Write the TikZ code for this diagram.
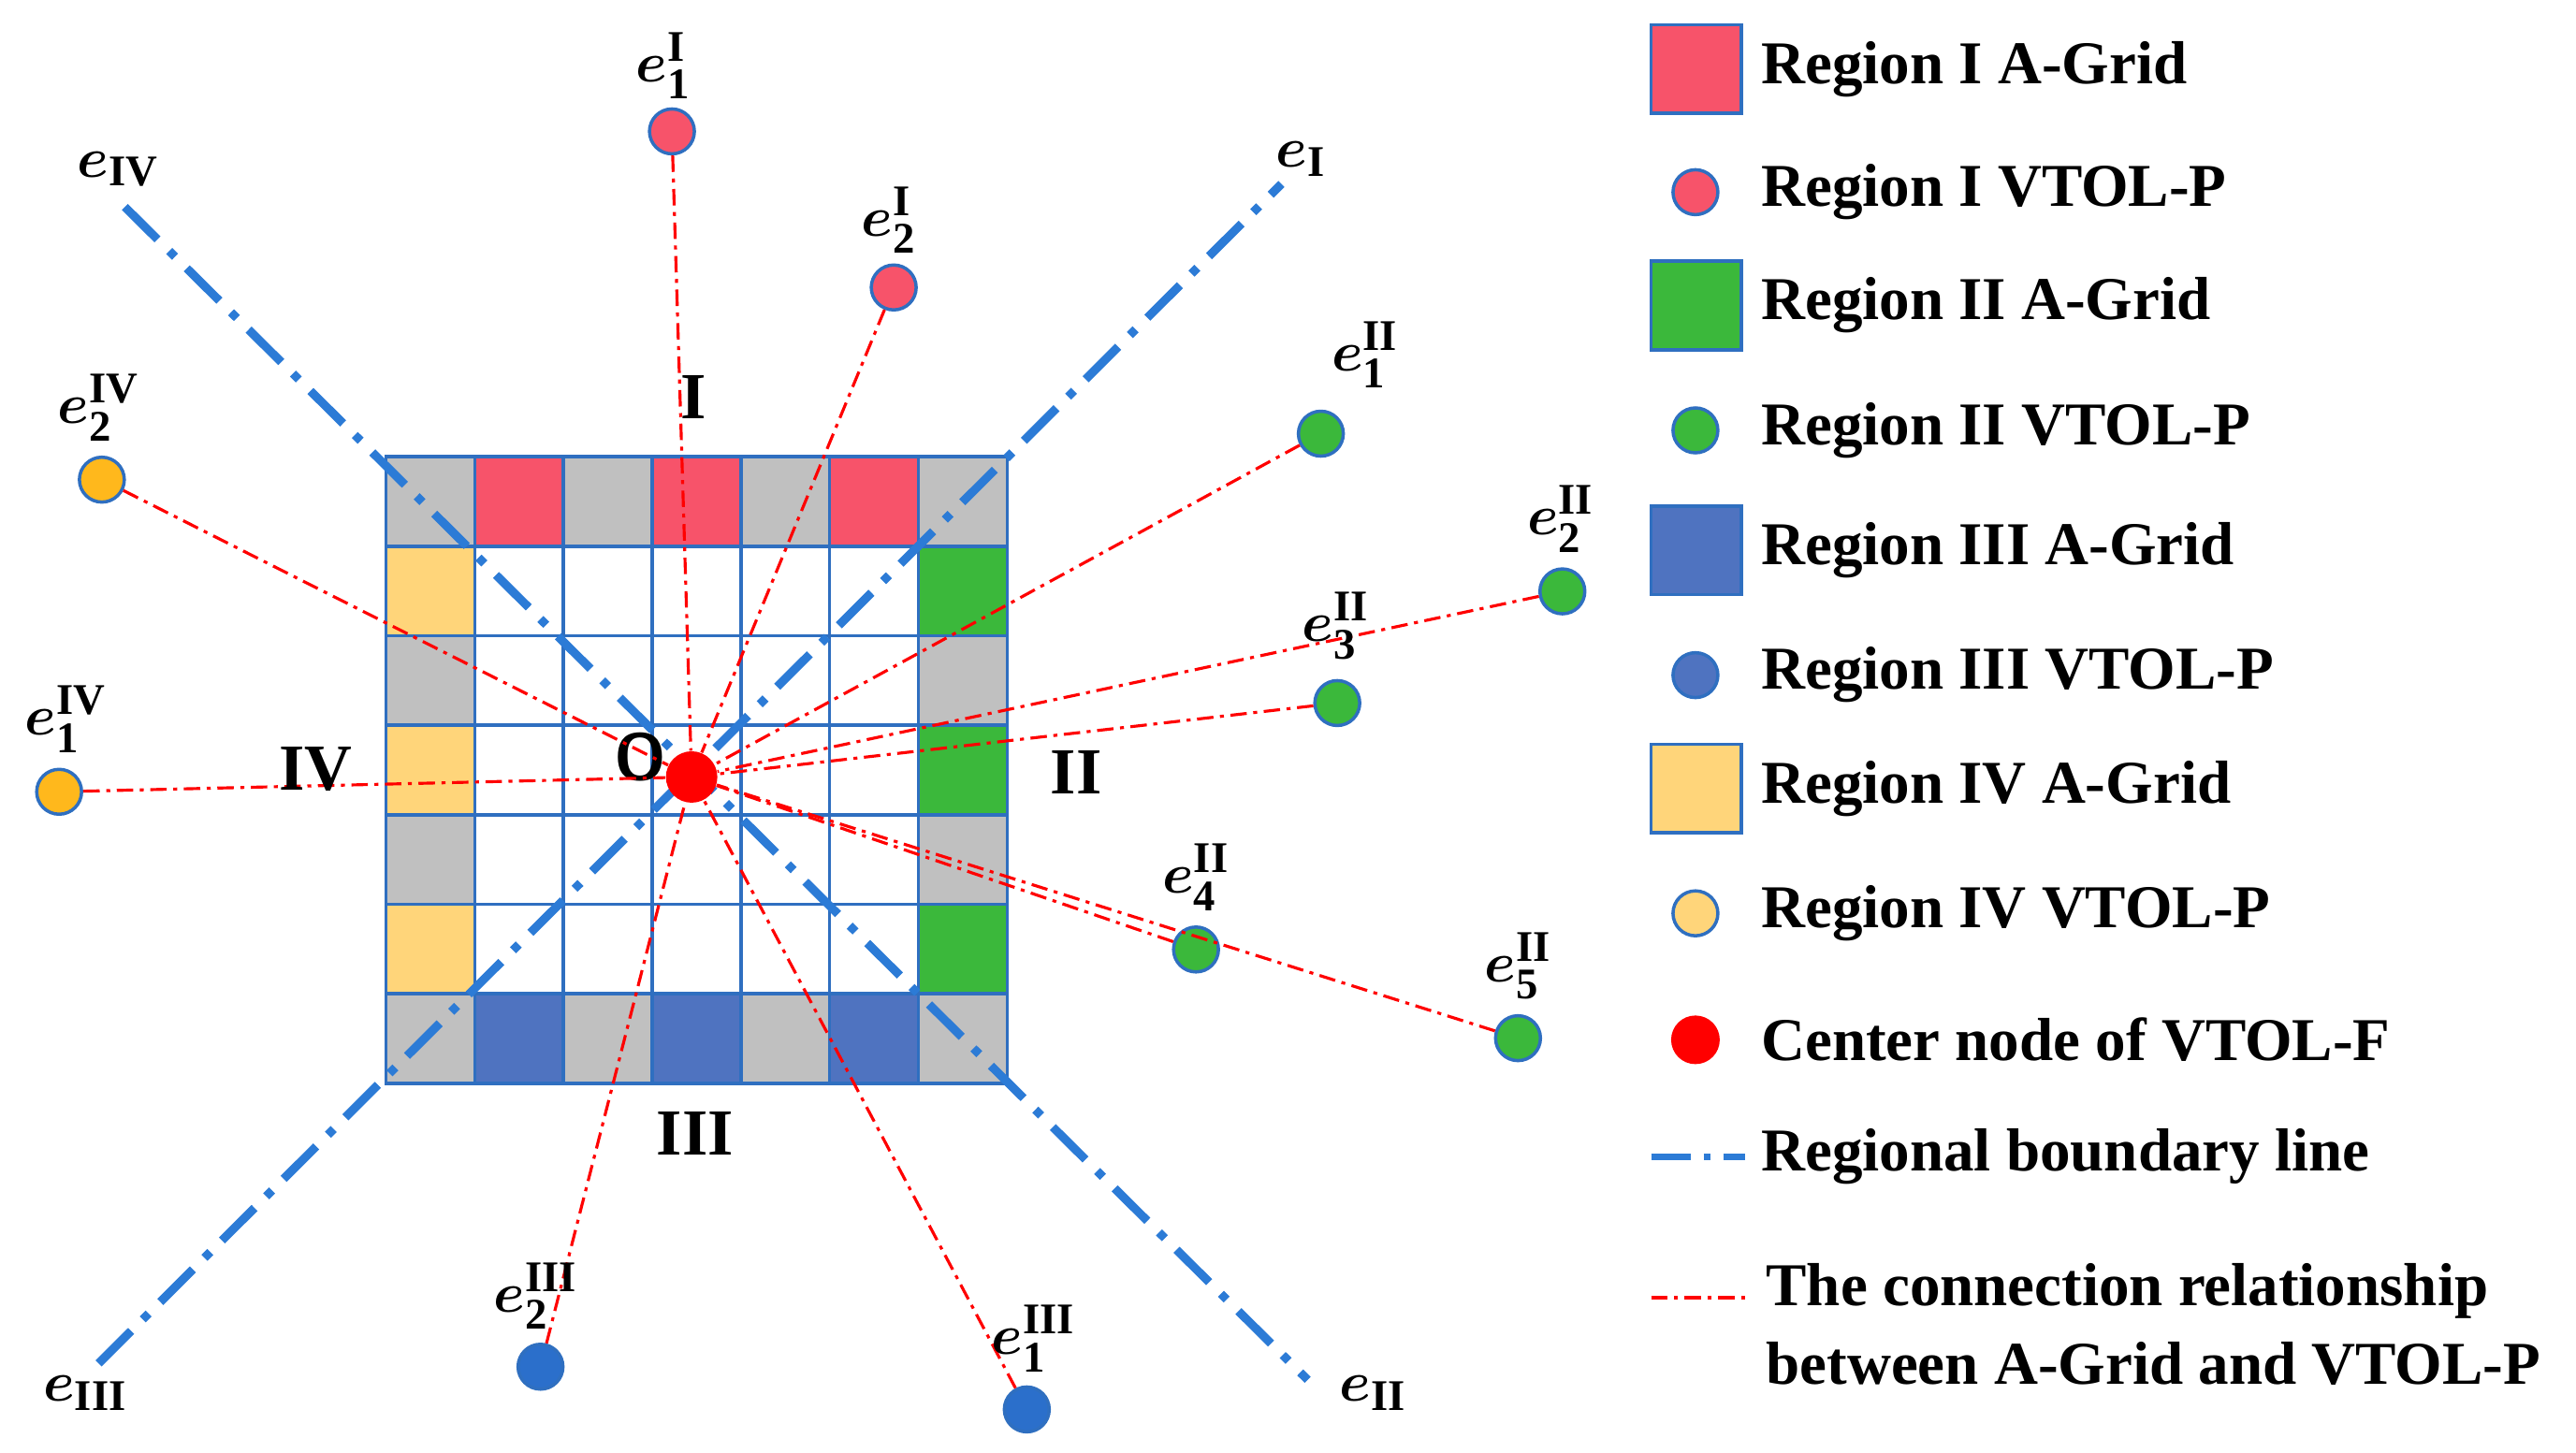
\documentclass[tikz,border=0pt]{standalone}
\usepackage{fontspec}
\setmainfont{Liberation Serif}
\usepackage{amsmath,bm}
\usetikzlibrary{positioning}
\definecolor{cellred}{HTML}{F7536A}
\definecolor{cellgreen}{HTML}{3BB83B}
\definecolor{cellblue}{HTML}{4F73C0}
\definecolor{cellyellow}{HTML}{FFD57A}
\definecolor{cellgrey}{HTML}{C0C0C0}
\definecolor{ptyellow}{HTML}{FFB81C}
\definecolor{ptblue}{HTML}{2B6FCB}
\definecolor{gridblue}{HTML}{2F6FC0}
\definecolor{bline}{HTML}{2C7BD6}
\newcommand\elab[2]{$\bm{e}^{\mathbf{#1}}_{\mathbf{#2}}$}
\newcommand\eax[1]{$\bm{e}_{\mathbf{#1}}$}
\tikzset{
  pt/.style={circle,draw=gridblue,line width=1pt,minimum size=0.48cm,inner sep=0pt},
  cell/.style={draw=gridblue,line width=1pt},
  bnd/.style={bline,line width=2.6pt,dash pattern=on 14pt off 5pt on 2.5pt off 5pt},
  link/.style={red,line width=0.9pt,dash pattern=on 5pt off 2pt on 1.2pt off 2pt},
  lab/.style={font=\fontsize{19}{21}\selectfont,inner sep=1pt},
  reg/.style={font=\fontsize{20}{22}\selectfont\bfseries},
  leg/.style={font=\fontsize{18.5}{22}\selectfont\bfseries,anchor=west,align=left}
}
\begin{document}
\begin{tikzpicture}[x=0.01756cm,y=-0.01756cm]
  \useasboundingbox (0,0) rectangle (1568,884);
  % Grid cells
  \foreach \i in {0,...,6}
    \foreach \j in {0,...,6}
      \draw[cell,fill=white] (235+54*\i,278+54.5*\j) rectangle ++(54,54.5);
  \foreach \i/\c in {0/cellgrey,1/cellred,2/cellgrey,3/cellred,4/cellgrey,5/cellred,6/cellgrey}
    \draw[cell,fill=\c] (235+54*\i,278) rectangle ++(54,54.5);
  \foreach \i/\c in {0/cellgrey,1/cellblue,2/cellgrey,3/cellblue,4/cellgrey,5/cellblue,6/cellgrey}
    \draw[cell,fill=\c] (235+54*\i,278+54.5*6) rectangle ++(54,54.5);
  \foreach \j/\c in {1/cellyellow,2/cellgrey,3/cellyellow,4/cellgrey,5/cellyellow}{
    \draw[cell,fill=\c] (235,278+54.5*\j) rectangle ++(54,54.5);
    \draw[cell,fill=cellgrey] (235+54*6,278+54.5*\j) rectangle ++(54,54.5);
  }
  \foreach \j in {1,3,5}
    \draw[cell,fill=cellgreen] (235+54*6,278+54.5*\j) rectangle ++(54,54.5);

  % Regional boundary lines
  \coordinate (bI) at (780,112);
  \coordinate (bII) at (796,840);
  \coordinate (bIII) at (60,830);
  \coordinate (bIV) at (76,126);
  \draw[bnd] (bIII) -- (bI);
  \draw[bnd] (bIV) -- (bII);
  \node[lab] at (792,97) {\eax{I}};
  \node[lab] at (836,848) {\eax{II}};
  \node[lab] at (52,848) {\eax{III}};
  \node[lab] at (72,103) {\eax{IV}};

  % Center node
  \node[circle,fill=red,minimum size=0.55cm,inner sep=0pt] (O) at (421,473) {};
  \node[font=\fontsize{20}{22}\selectfont\bfseries\sffamily] at (390,461) {O};

  % VTOL-P nodes
  \node[pt,fill=cellred] (pI1) at (409,80) {};
  \node[pt,fill=cellred] (pI2) at (544,175) {};
  \node[pt,fill=cellgreen] (pII1) at (804,264) {};
  \node[pt,fill=cellgreen] (pII2) at (951,360) {};
  \node[pt,fill=cellgreen] (pII3) at (814,428) {};
  \node[pt,fill=cellgreen] (pII4) at (728,578) {};
  \node[pt,fill=cellgreen] (pII5) at (924,632) {};
  \node[pt,fill=ptblue] (pIII1) at (625,858) {};
  \node[pt,fill=ptblue] (pIII2) at (329,832) {};
  \node[pt,fill=ptyellow] (pIV1) at (36,482) {};
  \node[pt,fill=ptyellow] (pIV2) at (62,292) {};

  % Connections
  \foreach \p in {pI1,pI2,pII1,pII2,pII3,pII4,pII5,pIII1,pIII2,pIV1,pIV2}
    \draw[link] (\p) -- (O);

  % Labels
  \node[lab] at (404,40) {\elab{I}{1}};
  \node[lab] at (541,134) {\elab{I}{2}};
  \node[lab] at (831,216) {\elab{II}{1}};
  \node[lab] at (950,316) {\elab{II}{2}};
  \node[lab] at (813,381) {\elab{II}{3}};
  \node[lab] at (728,534) {\elab{II}{4}};
  \node[lab] at (924,588) {\elab{II}{5}};
  \node[lab] at (629,815) {\elab{III}{1}};
  \node[lab] at (326,789) {\elab{III}{2}};
  \node[lab] at (40,438) {\elab{IV}{1}};
  \node[lab] at (60,248) {\elab{IV}{2}};
  \node[reg] at (422,242) {I};
  \node[reg] at (655,470) {II};
  \node[reg] at (423,690) {III};
  \node[reg] at (192,468) {IV};

  % Legend
  \foreach \y/\c/\t in {42/cellred/Region I A-Grid,186/cellgreen/Region II A-Grid,
                        335/cellblue/Region III A-Grid,480/cellyellow/Region IV A-Grid}{
    \draw[cell,fill=\c] (1005,\y-27) rectangle ++(55,54);
    \node[leg] at (1065,\y) {\t};
  }
  \foreach \y/\c/\t in {117/cellred/Region I VTOL-P,262/cellgreen/Region II VTOL-P,
                        411/cellblue/Region III VTOL-P,556/cellyellow/Region IV VTOL-P}{
    \node[pt,fill=\c] at (1032,\y) {};
    \node[leg] at (1065,\y) {\t};
  }
  \node[circle,fill=red,minimum size=0.52cm,inner sep=0pt] at (1032,633) {};
  \node[leg] at (1065,633) {Center node of VTOL-F};
  \draw[bline,line width=2pt,dash pattern=on 12pt off 4pt on 2pt off 4pt] (1005,704) -- (1062,704);
  \node[leg] at (1065,704) {Regional boundary line};
  \draw[link] (1005,790) -- (1062,790);
  \node[leg,font=\fontsize{18.5}{24}\selectfont\bfseries] at (1068,806) {The connection relationship\\between A-Grid and VTOL-P};
\end{tikzpicture}
\end{document}
